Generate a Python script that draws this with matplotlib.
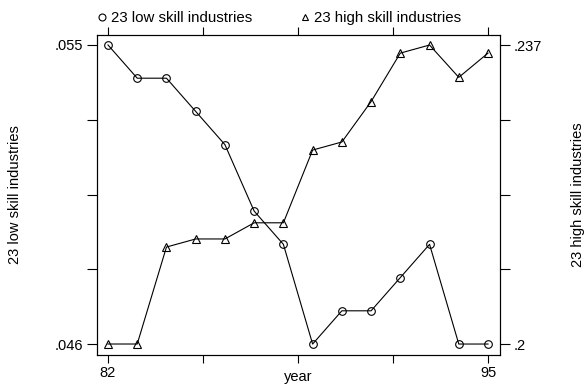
import numpy as np
import matplotlib
matplotlib.use("Agg")
import matplotlib.pyplot as plt
from matplotlib.lines import Line2D

plt.rcParams['font.family'] = ['Liberation Sans', 'DejaVu Sans']

years = np.arange(82, 96)
low_skill = [.055, .054, .054, .053, .052, .050, .049, .046, .047, .047, .048, .049, .046, .046]
high_skill = [.200, .200, .212, .213, .213, .215, .215, .224, .225, .230, .236, .237, .233, .236]
low_label = "23 low skill industries"
high_label = "23 high skill industries"

fs = 10.5
lw = 0.8

fig = plt.figure(figsize=(5.84, 3.85), dpi=100)
ax = fig.add_axes([97/584, 30/385, 403/584, 320/385])
ax2 = ax.twinx()

ax.plot(years, low_skill, color='black', lw=lw, marker='o', ms=5.5,
        mfc='none', mec='black', mew=lw)
ax2.plot(years, high_skill, color='black', lw=lw, marker='^', ms=6,
         mfc='none', mec='black', mew=lw)

ax.set_xlim(81.624, 95.41)
ax.set_ylim(.04567, .0553)
ax2.set_ylim(.19864, .23824)

xt = np.linspace(82, 95, 5)
ax.set_xticks(xt)
ax.set_xticklabels(['82', '', '', '', '95'])
ax.set_yticks(np.linspace(.046, .055, 5))
ax.set_yticklabels(['.046', '', '', '', '.055'])
ax2.set_yticks(np.linspace(.2, .237, 5))
ax2.set_yticklabels(['.2', '', '', '', '.237'])

ax.tick_params(axis='x', top=True, direction='out', length=6, width=lw,
               labelsize=fs, pad=2)
ax.tick_params(axis='y', direction='out', length=7, width=lw, labelsize=fs, pad=3)
ax2.tick_params(axis='y', direction='out', length=7, width=lw, labelsize=fs, pad=3)
for a in (ax, ax2):
    for s in a.spines.values():
        s.set_linewidth(lw)

fig.text(298/584, 1/385, 'year', fontsize=fs, ha='center', va='bottom')
fig.text(15/584, 1 - 195/385, low_label, rotation=90, fontsize=fs,
         ha='center', va='center')
fig.text(578/584, 1 - 195/385, high_label, rotation=90, fontsize=fs,
         ha='center', va='center')

handles = [Line2D([], [], ls='none', marker='o', ms=5, mfc='none', mec='black', mew=lw),
           Line2D([], [], ls='none', marker='^', ms=5, mfc='none', mec='black', mew=lw)]
fig.legend(handles, [low_label, high_label], ncol=2, frameon=False, fontsize=10.8,
           loc='center left', bbox_to_anchor=(96/584, 1 - 18/385),
           handlelength=0.8, handletextpad=0.2, columnspacing=3.1,
           borderpad=0, borderaxespad=0)

fig.savefig('out.png', dpi=100)
